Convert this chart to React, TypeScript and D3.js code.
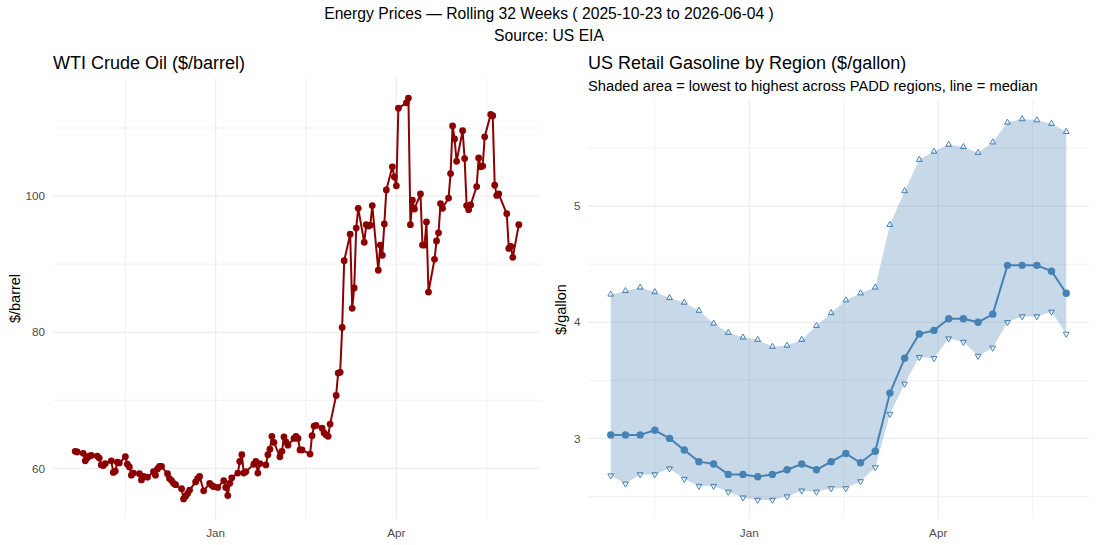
import React from 'react';
import * as d3 from 'd3';

const W = 1097;
const H = 545;
const FONT = '"Liberation Sans", Arial, Helvetica, sans-serif';

// WTI spot, one value per trading day
const wtiFirstDay = '2025-10-23';
const wtiLastDay = '2026-06-01';
const marketHolidays = ['2025-11-27', '2025-12-25', '2026-01-01', '2026-01-19', '2026-02-16', '2026-04-03', '2026-05-25'];
const wtiPrices = [
  62.5, 62.4, 62.2, 61.1, 61.5, 61.8, 61.9,
  61.8, 61.5, 60.5, 60.4, 60.7,
  61.1, 59.4, 59.6, 60.9, 60.8,
  61.7, 60.6, 60.2, 59.0, 59.3,
  59.2, 58.3, 58.8, 58.7,
  59.5, 59.0, 59.9, 60.3, 60.3,
  59.2, 58.5, 58.2, 57.8, 57.6,
  57.0, 55.5, 55.9, 56.3, 56.8,
  58.0, 58.5, 58.8, 56.7,
  57.8, 57.5, 57.3,
  57.2,
  58.2, 57.2, 56.0, 57.8, 58.6,
  59.3, 61.0, 62.0, 59.3, 59.5,
  60.6, 61.0, 59.3, 60.7,
  60.5, 62.0, 62.8, 64.7, 63.8,
  61.7, 62.5, 64.6, 63.9, 63.4,
  64.4, 64.7, 64.4, 62.7, 62.7,
  62.1, 64.8, 66.2, 66.3,
  65.9, 65.2, 64.9, 64.7, 66.5,
  70.7, 74.0, 74.1, 80.7, 90.5,
  94.4, 83.5, 86.5, 95.3, 98.2,
  93.2, 95.8, 95.6, 95.7, 98.6,
  89.1, 92.8, 91.3, 95.9, 100.9,
  104.3, 102.8, 101.5, 112.9,
  113.7, 114.4, 95.8, 99.4, 98.1,
  100.3, 92.8, 92.8, 96.2, 85.9,
  90.7, 93.4, 94.6, 98.9, 98.2,
  99.7, 103.3, 110.3, 108.4, 105.1,
  109.6, 105.5, 98.6, 98.0, 98.7,
  101.4, 105.6, 104.3, 104.4, 108.7,
  112.0, 111.8, 101.6, 100.1, 100.3,
  97.4, 92.3, 92.6, 91.0,
  95.8,
];
const wtiTicks = [60, 80, 100];

// Weekly retail gasoline across PADD regions
const gasWeeks = [
  '2025-10-27', '2025-11-03', '2025-11-10', '2025-11-17', '2025-11-24',
  '2025-12-01', '2025-12-08', '2025-12-15', '2025-12-22', '2025-12-29',
  '2026-01-05', '2026-01-12', '2026-01-19', '2026-01-26',
  '2026-02-02', '2026-02-09', '2026-02-16', '2026-02-23',
  '2026-03-02', '2026-03-09', '2026-03-16', '2026-03-23', '2026-03-30',
  '2026-04-06', '2026-04-13', '2026-04-20', '2026-04-27',
  '2026-05-04', '2026-05-11', '2026-05-18', '2026-05-25', '2026-06-01',
];
const gasMedian = [3.03, 3.03, 3.03, 3.07, 3.00, 2.90, 2.80, 2.78, 2.69, 2.69, 2.67, 2.69, 2.73, 2.78, 2.73, 2.80, 2.87, 2.79, 2.89, 3.39, 3.69, 3.90, 3.93, 4.03, 4.03, 4.00, 4.07, 4.49, 4.49, 4.49, 4.44, 4.25];
const gasHigh = [4.24, 4.27, 4.30, 4.26, 4.21, 4.17, 4.10, 3.99, 3.91, 3.87, 3.85, 3.79, 3.80, 3.85, 3.97, 4.08, 4.19, 4.25, 4.30, 4.84, 5.13, 5.40, 5.47, 5.53, 5.51, 5.46, 5.55, 5.72, 5.75, 5.74, 5.71, 5.64];
const gasLow = [2.68, 2.61, 2.69, 2.69, 2.74, 2.65, 2.59, 2.59, 2.54, 2.49, 2.47, 2.47, 2.50, 2.55, 2.54, 2.57, 2.57, 2.63, 2.75, 3.21, 3.47, 3.70, 3.69, 3.86, 3.83, 3.71, 3.78, 4.00, 4.05, 4.05, 4.09, 3.90];
const gasTicks = [3, 4, 5];

const DARKRED = '#8B0000';
const STEEL = '#4682B4';
const GRID = '#EBEBEB';
const AXIS_TEXT = '#4D4D4D';

const parse = d3.utcParse('%Y-%m-%d');

const expand = (lo: number, hi: number): [number, number] => {
  const pad = (hi - lo) * 0.05;
  return [lo - pad, hi + pad];
};

// midpoints between major breaks, with one extra step on each side
function minorBreaks(major: number[], lo: number, hi: number) {
  const step = major[1] - major[0];
  const ext = [major[0] - step, ...major, major[major.length - 1] + step];
  const out: number[] = [];
  for (let i = 0; i < ext.length - 1; i++) {
    const m = (ext[i] + ext[i + 1]) / 2;
    if (m >= lo && m <= hi) out.push(m);
  }
  return out;
}

function quarterBreaks(lo: number, hi: number) {
  return d3.utcMonth.every(3)!.range(new Date(lo), new Date(hi)).map(d => +d);
}

type GridProps = {
  x: d3.ScaleTime<number, number>;
  y: d3.ScaleLinear<number, number>;
  yMajor: number[];
};

function Grid({ x, y, yMajor }: GridProps) {
  const [x0, x1] = x.range();
  const [y0, y1] = y.range();
  const [dl, dh] = x.domain().map(d => +d);
  const xMajor = quarterBreaks(dl, dh);
  const xMinor = minorBreaks(xMajor, dl, dh);
  const [yl, yh] = y.domain();
  const yMinor = minorBreaks(yMajor, yl, yh);
  return (
    <g>
      {yMinor.map(v => (
        <line key={'ym' + v} x1={x0} x2={x1} y1={y(v)} y2={y(v)} stroke={GRID} strokeWidth={0.7} />
      ))}
      {xMinor.map(v => (
        <line key={'xm' + v} x1={x(new Date(v))} x2={x(new Date(v))} y1={y0} y2={y1} stroke={GRID} strokeWidth={0.7} />
      ))}
      {yMajor.map(v => (
        <line key={'yM' + v} x1={x0} x2={x1} y1={y(v)} y2={y(v)} stroke={GRID} strokeWidth={1.1} />
      ))}
      {xMajor.map(v => (
        <line key={'xM' + v} x1={x(new Date(v))} x2={x(new Date(v))} y1={y0} y2={y1} stroke={GRID} strokeWidth={1.1} />
      ))}
    </g>
  );
}

function XLabels({ x, y }: { x: d3.ScaleTime<number, number>; y: number }) {
  const [dl, dh] = x.domain().map(d => +d);
  const fmt = d3.utcFormat('%b');
  return (
    <g>
      {quarterBreaks(dl, dh).map(v => (
        <text key={v} x={x(new Date(v))} y={y} textAnchor="middle" fontSize={11.7} fill={AXIS_TEXT}>
          {fmt(new Date(v))}
        </text>
      ))}
    </g>
  );
}

function YLabels({ y, ticks, x }: { y: d3.ScaleLinear<number, number>; ticks: number[]; x: number }) {
  return (
    <g>
      {ticks.map(v => (
        <text key={v} x={x} y={y(v)} dy="0.36em" textAnchor="end" fontSize={11.7} fill={AXIS_TEXT}>
          {v}
        </text>
      ))}
    </g>
  );
}

export default function App() {
  // trading calendar for the WTI series
  const holidaySet = new Set(marketHolidays);
  const fmtDay = d3.utcFormat('%Y-%m-%d');
  const wtiDays = d3
    .utcDays(parse(wtiFirstDay)!, d3.utcDay.offset(parse(wtiLastDay)!, 1))
    .filter(d => d.getUTCDay() !== 0 && d.getUTCDay() !== 6 && !holidaySet.has(fmtDay(d)));
  const wti = wtiDays.map((date, i) => ({ date, value: wtiPrices[i] })).filter(d => d.value != null);

  const gas = gasWeeks.map((w, i) => ({
    date: parse(w)!,
    median: gasMedian[i],
    low: gasLow[i],
    high: gasHigh[i],
  }));

  // left panel
  const wtiExt = d3.extent(wti, d => +d.date) as [number, number];
  const xL = d3.scaleUtc().domain(expand(...wtiExt).map(v => new Date(v))).range([53, 541]);
  const wtiV = d3.extent(wti, d => d.value) as [number, number];
  const yL = d3.scaleLinear().domain(expand(...wtiV)).range([519, 78]);
  const wtiLine = d3
    .line<{ date: Date; value: number }>()
    .x(d => xL(d.date))
    .y(d => yL(d.value));

  // right panel
  const gasExt = d3.extent(gas, d => +d.date) as [number, number];
  const xR = d3.scaleUtc().domain(expand(...gasExt).map(v => new Date(v))).range([588, 1089]);
  const gasLo = d3.min(gas, d => d.low)!;
  const gasHi = d3.max(gas, d => d.high)!;
  const yR = d3.scaleLinear().domain(expand(gasLo, gasHi)).range([519, 100]);
  const band = d3
    .area<(typeof gas)[number]>()
    .x(d => xR(d.date))
    .y0(d => yR(d.low))
    .y1(d => yR(d.high));
  const medLine = d3
    .line<(typeof gas)[number]>()
    .x(d => xR(d.date))
    .y(d => yR(d.median));
  const tri = d3.symbol(d3.symbolTriangle, 15)();

  return (
    <svg
      width={W}
      height={H}
      viewBox={`0 0 ${W} ${H}`}
      style={{ position: 'absolute', left: 0, top: 0, background: '#fff' }}
      fontFamily={FONT}
    >
      <rect width={W} height={H} fill="#fff" />

      <text x={549} y={18.5} textAnchor="middle" fontSize={15.7} fill="#000">
        Energy Prices — Rolling 32 Weeks ( 2025-10-23 to 2026-06-04 )
      </text>
      <text x={549} y={40.5} textAnchor="middle" fontSize={15.7} fill="#000">
        Source: US EIA
      </text>

      {/* WTI crude */}
      <text x={53} y={68.5} fontSize={18} fill="#000">
        WTI Crude Oil ($/barrel)
      </text>
      <Grid x={xL} y={yL} yMajor={wtiTicks} />
      <YLabels y={yL} ticks={wtiTicks} x={45} />
      <XLabels x={xL} y={537} />
      <text transform={`translate(20,${(78 + 519) / 2}) rotate(-90)`} textAnchor="middle" fontSize={14.5} fill="#000">
        $/barrel
      </text>
      <path d={wtiLine(wti)!} fill="none" stroke={DARKRED} strokeWidth={2} strokeLinejoin="round" />
      {wti.map((d, i) => (
        <circle key={i} cx={xL(d.date)} cy={yL(d.value)} r={3.4} fill={DARKRED} />
      ))}

      {/* Retail gasoline */}
      <text x={588} y={68.5} fontSize={18} fill="#000">
        US Retail Gasoline by Region ($/gallon)
      </text>
      <text x={588} y={91} fontSize={14.7} fill="#000">
        Shaded area = lowest to highest across PADD regions, line = median
      </text>
      <Grid x={xR} y={yR} yMajor={gasTicks} />
      <YLabels y={yR} ticks={gasTicks} x={580.5} />
      <XLabels x={xR} y={537} />
      <text transform={`translate(566,${(100 + 519) / 2}) rotate(-90)`} textAnchor="middle" fontSize={14.5} fill="#000">
        $/gallon
      </text>
      <path d={band(gas)!} fill={STEEL} fillOpacity={0.3} />
      <path d={medLine(gas)!} fill="none" stroke={STEEL} strokeWidth={2} strokeLinejoin="round" />
      {gas.map((d, i) => (
        <circle key={'m' + i} cx={xR(d.date)} cy={yR(d.median)} r={3.7} fill={STEEL} />
      ))}
      {gas.map((d, i) => (
        <path
          key={'h' + i}
          d={tri!}
          transform={`translate(${xR(d.date)},${yR(d.high)})`}
          fill="none"
          stroke={STEEL}
          strokeWidth={1}
        />
      ))}
      {gas.map((d, i) => (
        <path
          key={'l' + i}
          d={tri!}
          transform={`translate(${xR(d.date)},${yR(d.low)}) rotate(180)`}
          fill="none"
          stroke={STEEL}
          strokeWidth={1}
        />
      ))}
    </svg>
  );
}
